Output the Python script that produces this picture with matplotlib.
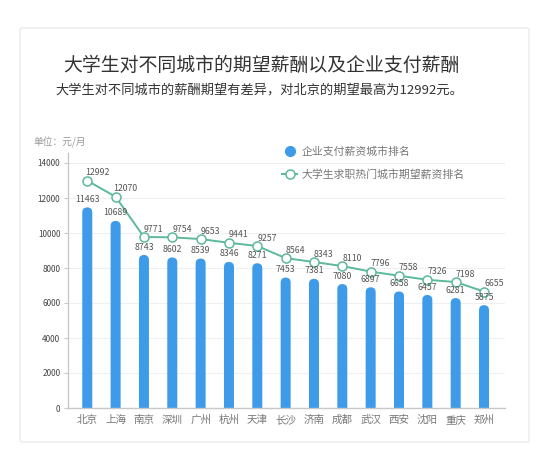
import numpy as np
import matplotlib
matplotlib.use("Agg")
import matplotlib.pyplot as plt
from matplotlib.patches import FancyBboxPatch
from matplotlib.lines import Line2D

plt.rcParams['font.family'] = ['Noto Sans CJK SC', 'DejaVu Sans']

cities = ["北京", "上海", "南京", "深圳", "广州", "杭州", "天津", "长沙",
          "济南", "成都", "武汉", "西安", "沈阳", "重庆", "郑州"]
company_pay = [11463, 10689, 8743, 8602, 8539, 8346, 8271, 7453,
               7381, 7080, 6897, 6658, 6457, 6281, 5875]
student_expect = [12992, 12070, 9771, 9754, 9653, 9441, 9257, 8564,
                  8343, 8110, 7796, 7558, 7326, 7198, 6655]
y_ticks = [0, 2000, 4000, 6000, 8000, 10000, 12000, 14000]

title = "大学生对不同城市的期望薪酬以及企业支付薪酬"
subtitle = "大学生对不同城市的薪酬期望有差异，对北京的期望最高为12992元。"
unit = "单位：元/月"
bar_name = "企业支付薪资城市排名"
line_name = "大学生求职热门城市期望薪资排名"

bar_color = "#3d9be9"
line_color = "#5cb99b"
text_gray = "#777777"

W, H = 550, 451
fig = plt.figure(figsize=(W / 100, H / 100), dpi=100)
fig.patch.set_facecolor("white")

# card background
card = FancyBboxPatch((20 / W, 1 - 442 / H), 509 / W, 414 / H,
                      boxstyle="round,pad=0,rounding_size=0.004",
                      transform=fig.transFigure, facecolor="white",
                      edgecolor="#e6e6e6", linewidth=0.8, zorder=-5)
fig.patches.append(card)

fig.text(261 / W, 1 - 65 / H, title, ha="center", va="center",
         fontsize=13.6, color="#333333")
fig.text(259 / W, 1 - 90 / H, subtitle, ha="center", va="center",
         fontsize=9.5, color="#333333")
fig.text(33 / W, 1 - 142 / H, unit, ha="left", va="center",
         fontsize=7, color="#999999")

x0, x1 = 68, 505
yb, yt = 408, 152.5
ax = fig.add_axes([x0 / W, 1 - yb / H, (x1 - x0) / W, (yb - yt) / H])
ax.set_facecolor("none")

x = np.arange(len(cities))
xlim = (-0.68, 14.74)
ylim = (0, 14600)
ax.set_xlim(*xlim)
ax.set_ylim(*ylim)

# rounded-top bars
px_per_x = (x1 - x0) / (xlim[1] - xlim[0])
px_per_y = (yb - yt) / (ylim[1] - ylim[0])
bw = 10 / px_per_x
r = bw / 2
for xi, v in zip(x, company_pay):
    p = FancyBboxPatch((xi - bw / 2, -2000), bw, v + 2000,
                       boxstyle=f"round,pad=0,rounding_size={r}",
                       mutation_aspect=px_per_x / px_per_y,
                       facecolor=bar_color, edgecolor="none", zorder=2)
    ax.add_patch(p)
    ax.annotate(str(v), (xi, v), xytext=(0, 2.5), textcoords="offset points",
                ha="center", va="bottom", fontsize=6.3, color="#555555", zorder=5)

ax.plot(x, student_expect, color=line_color, lw=1.4, marker="o", ms=6.5,
        mfc="white", mec=line_color, mew=1.1, zorder=4)
for xi, v in zip(x, student_expect):
    ax.annotate(str(v), (xi, v), xytext=(7, 2.5), textcoords="offset points",
                ha="center", va="bottom", fontsize=6.3, color="#555555", zorder=5)

ax.set_yticks(y_ticks)
ax.set_xticks(x)
ax.set_xticklabels(cities)
ax.grid(axis="y", color="#f0f0f0", lw=0.8, zorder=0)
ax.set_axisbelow(True)
for s in ["top", "right"]:
    ax.spines[s].set_visible(False)
for s in ["left", "bottom"]:
    ax.spines[s].set_color("#c8c8c8")
    ax.spines[s].set_linewidth(1.0)
ax.tick_params(axis="y", length=3, width=0.8, color="#c8c8c8", pad=2.5,
               labelsize=5.9, labelcolor="#444444")
ax.tick_params(axis="x", length=0, pad=5, labelsize=7.6, labelcolor=text_gray)

handles = [
    Line2D([], [], color="none", marker="o", ms=7, mfc=bar_color, mec=bar_color),
    Line2D([], [], color=line_color, lw=1.4, marker="o", ms=6.5,
           mfc="white", mec=line_color, mew=1.1),
]
leg = fig.legend(handles, [bar_name, line_name], loc="upper left",
                 bbox_to_anchor=(282 / W, 1 - 146 / H), frameon=False,
                 fontsize=7.8, labelcolor=text_gray, handlelength=1.4,
                 handletextpad=0.4, labelspacing=1.15, borderpad=0,
                 borderaxespad=0)

fig.savefig("out.png", dpi=100, facecolor="white")
